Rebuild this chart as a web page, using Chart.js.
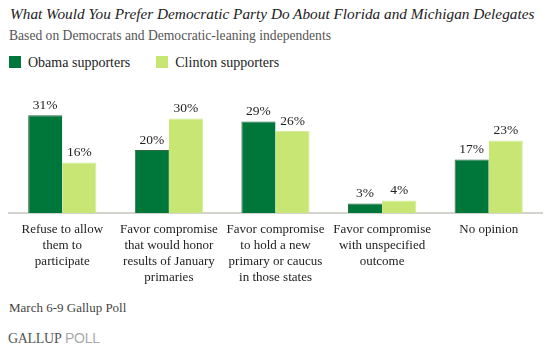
<!DOCTYPE html>
<html><head><meta charset="utf-8">
<script src="https://cdn.jsdelivr.net/npm/chart.js@4.4.1/dist/chart.umd.min.js"></script>
<style>
html,body{margin:0;padding:0;background:#fff;width:548px;height:352px;overflow:hidden;position:relative;font-family:"Liberation Serif","DejaVu Serif",serif;}
.t{position:absolute;white-space:nowrap;}
#title{left:10px;top:5px;font-size:15.3px;font-style:italic;color:#222;}
#sub{left:9px;top:28px;font-size:13.6px;color:#555;}
#legend{left:9px;top:55px;font-size:14px;color:#222;}
#legend span.sw{display:inline-block;width:12px;height:12px;vertical-align:-1px;margin-right:7px;}
#legend span.it{margin-right:26px;}
#foot{left:9px;top:300px;font-size:13px;color:#444;}
#logo{left:8px;top:330px;font-size:14px;font-family:"Liberation Sans",sans-serif;letter-spacing:-0.3px;}
#wrap{position:absolute;left:0;top:90px;width:548px;height:204px;}
</style></head>
<body>
<div id="title" class="t">What Would You Prefer Democratic Party Do About Florida and Michigan Delegates</div>
<div id="sub" class="t">Based on Democrats and Democratic-leaning independents</div>
<div id="legend" class="t"></div>
<div id="wrap"><canvas id="c"></canvas></div>
<div id="foot" class="t">March 6-9 Gallup Poll</div>
<div id="logo" class="t"><span style="color:#555;font-family:'Liberation Serif',serif;">GALLUP</span> <span style="color:#aaa;">POLL</span></div>
<script>
const categories = [
  ["Refuse to allow","them to","participate"],
  ["Favor compromise","that would honor","results of January","primaries"],
  ["Favor compromise","to hold a new","primary or caucus","in those states"],
  ["Favor compromise","with unspecified","outcome"],
  ["No opinion"]
];
const seriesNames = ["Obama supporters","Clinton supporters"];
const obama = [31,20,29,3,17];
const clinton = [16,30,26,4,23];
const colors = ["#00773a","#c8e673"];
const borders = ["#2e6b44","#d6ec9a"];

const leg = document.getElementById('legend');
seriesNames.forEach((n,i)=>{
  const s=document.createElement('span');s.className='it';
  s.innerHTML='<span class="sw" style="background:'+colors[i]+'"></span>'+n;
  leg.appendChild(s);
});

const valueLabels = {
  id:'valueLabels',
  afterDatasetsDraw(chart){
    const ctx=chart.ctx;
    ctx.save();
    ctx.font='13.5px "Liberation Serif", serif';
    ctx.fillStyle='#222';
    ctx.textAlign='center';
    ctx.textBaseline='bottom';
    chart.data.datasets.forEach((ds,di)=>{
      chart.getDatasetMeta(di).data.forEach((el,i)=>{
        ctx.fillText(ds.data[i]+'%', el.x, el.y-3);
      });
    });
    ctx.restore();
  }
};

new Chart(document.getElementById('c'),{
  type:'bar',
  data:{
    labels:categories,
    datasets:[
      {label:seriesNames[0],data:obama,backgroundColor:colors[0],borderColor:borders[0],borderWidth:{left:1,top:1,right:0,bottom:0},categoryPercentage:0.64,barPercentage:1.0},
      {label:seriesNames[1],data:clinton,backgroundColor:colors[1],borderColor:borders[1],borderWidth:{left:0,top:1,right:1,bottom:0},categoryPercentage:0.64,barPercentage:1.0}
    ]
  },
  options:{
    responsive:true,maintainAspectRatio:false,animation:false,
    layout:{padding:{left:9,right:6,top:0,bottom:0}},
    plugins:{legend:{display:false},tooltip:{enabled:false}},
    scales:{
      x:{
        grid:{display:false,drawTicks:false},
        border:{display:true,color:'#d4d4cf',width:2},
        ticks:{color:'#222',font:{family:'"Liberation Serif", serif',size:13,lineHeight:1.21},padding:9,maxRotation:0,autoSkip:false}
      },
      y:{display:false,min:0,max:39}
    }
  },
  plugins:[valueLabels]
});
</script>
</body></html>
